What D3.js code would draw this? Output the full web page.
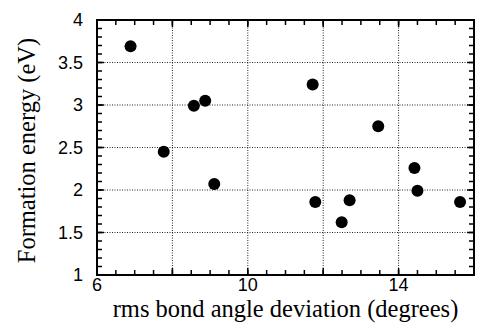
<!doctype html>
<html lang="en">
<head>
<meta charset="UTF-8">
<title>Formation energy</title>
<script src="https://cdn.jsdelivr.net/npm/d3@7"></script>
<style>
  body { margin: 0; background: #fff; }
  .tick-label { font-family: "Liberation Sans", Arial, sans-serif; font-size: 18px; fill: #000; }
  .title { font-family: "Liberation Serif", "Times New Roman", serif; font-size: 24.5px; fill: #000; }
</style>
</head>
<body>
<div class="canvas"></div>
<script>
  // rms bond angle deviation (degrees)
  const angleDev = [6.89, 7.77, 8.57, 8.87, 9.11, 11.72, 11.79, 12.49, 12.70, 13.46, 14.42, 14.50, 15.63];
  // formation energy (eV)
  const energy = [3.69, 2.45, 2.99, 3.05, 2.07, 3.24, 1.86, 1.62, 1.88, 2.75, 2.26, 1.99, 1.86];

  const xTickLabels = [6, 10, 14];
  const xGrid = [8, 10, 12, 14];
  const yTickLabels = [1, 1.5, 2, 2.5, 3, 3.5, 4];
  const yGrid = [1.5, 2, 2.5, 3, 3.5];

  const W = 477, H = 323;
  const [mt, mr, mb, ml] = [20, 3, 48, 97];
  const gw = W - ml - mr;
  const gh = H - mt - mb;

  const svg = d3.select('.canvas').append('svg')
    .attr('width', W)
    .attr('height', H);

  const g = svg.append('g').attr('transform', `translate(${ml},${mt})`);

  const x = d3.scaleLinear().domain([6, 16]).range([0, gw]);
  const y = d3.scaleLinear().domain([1, 4]).range([gh, 0]);

  // dotted grid
  g.selectAll('.vgrid').data(xGrid).enter().append('line')
    .attr('x1', d => x(d)).attr('x2', d => x(d))
    .attr('y1', 0).attr('y2', gh)
    .attr('stroke', '#222').attr('stroke-width', 1)
    .attr('stroke-dasharray', '1,1.5');

  g.selectAll('.hgrid').data(yGrid).enter().append('line')
    .attr('x1', 0).attr('x2', gw)
    .attr('y1', d => y(d)).attr('y2', d => y(d))
    .attr('stroke', '#222').attr('stroke-width', 1)
    .attr('stroke-dasharray', '1,1.5');

  // inward ticks on all four sides
  const xMinor = d3.range(6, 16.01, 0.5);
  const xMajor = d3.range(6, 16.01, 2);
  const yMinor = d3.range(1, 4.001, 0.1);
  const yMajor = d3.range(1, 4.001, 0.5);

  function ticksX(vals, len) {
    g.append('g').selectAll('line').data(vals).enter().append('line')
      .attr('x1', d => x(d)).attr('x2', d => x(d))
      .attr('y1', gh).attr('y2', gh - len)
      .attr('stroke', '#000').attr('stroke-width', 1.5);
    g.append('g').selectAll('line').data(vals).enter().append('line')
      .attr('x1', d => x(d)).attr('x2', d => x(d))
      .attr('y1', 0).attr('y2', len)
      .attr('stroke', '#000').attr('stroke-width', 1.5);
  }
  function ticksY(vals, len) {
    g.append('g').selectAll('line').data(vals).enter().append('line')
      .attr('y1', d => y(d)).attr('y2', d => y(d))
      .attr('x1', 0).attr('x2', len)
      .attr('stroke', '#000').attr('stroke-width', 1.5);
    g.append('g').selectAll('line').data(vals).enter().append('line')
      .attr('y1', d => y(d)).attr('y2', d => y(d))
      .attr('x1', gw).attr('x2', gw - len)
      .attr('stroke', '#000').attr('stroke-width', 1.5);
  }
  ticksX(xMinor, 5);
  ticksX(xMajor, 7);
  ticksY(yMinor, 5);
  ticksY(yMajor, 7);

  // frame
  g.append('rect')
    .attr('width', gw).attr('height', gh)
    .attr('fill', 'none').attr('stroke', '#000').attr('stroke-width', 2);

  // tick labels
  g.selectAll('.xl').data(xTickLabels).enter().append('text')
    .attr('class', 'tick-label')
    .attr('x', d => x(d)).attr('y', gh + 16)
    .attr('text-anchor', 'middle')
    .text(d => d);

  g.selectAll('.yl').data(yTickLabels).enter().append('text')
    .attr('class', 'tick-label')
    .attr('x', -14).attr('y', d => y(d) + 6)
    .attr('text-anchor', 'end')
    .text(d => d);

  // points
  g.selectAll('circle').data(angleDev).enter().append('circle')
    .attr('cx', (d, i) => x(d))
    .attr('cy', (d, i) => y(energy[i]))
    .attr('r', 6)
    .attr('fill', '#000');

  // axis titles
  svg.append('text')
    .attr('class', 'title')
    .attr('x', ml + gw / 2).attr('y', H - 6)
    .attr('text-anchor', 'middle')
    .text('rms bond angle deviation (degrees)');

  svg.append('text')
    .attr('class', 'title')
    .attr('transform', `translate(35, ${mt + gh / 2 + 3}) rotate(-90)`)
    .attr('text-anchor', 'middle')
    .text('Formation energy (eV)');
</script>
</body>
</html>
